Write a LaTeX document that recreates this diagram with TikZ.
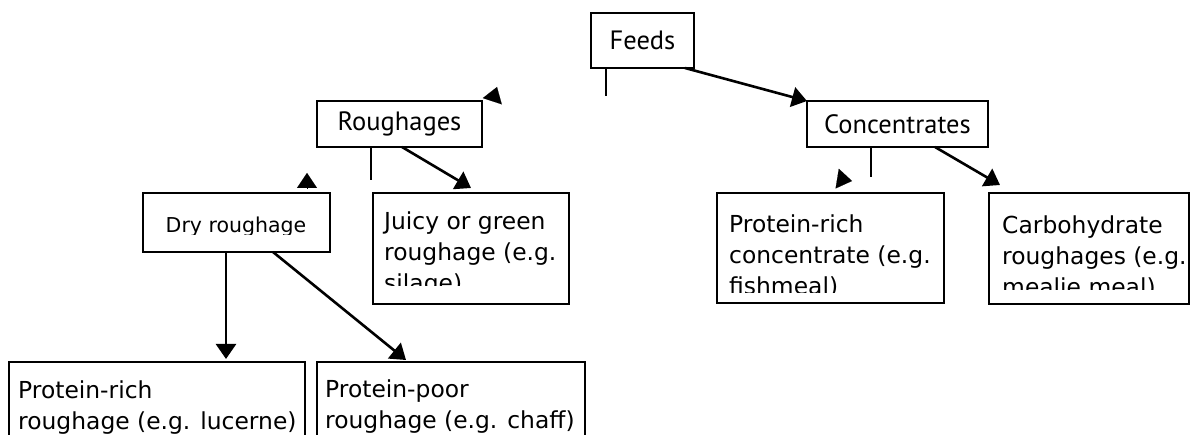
\documentclass[tikz,border=0pt]{standalone}
\usepackage{fontspec}
\usetikzlibrary{arrows.meta}
\newfontfamily\boxfont{DejaVu Sans}
\newfontfamily\headfont{PT Sans}

\begin{document}
\begin{tikzpicture}[x=1pt,y=-1pt,
    box/.style={draw=black,line width=2.6pt,inner sep=0pt,outer sep=0pt},
    headtxt/.style={font=\headfont\fontsize{26.5}{30}\selectfont},
    bodytxt/.style={font=\boxfont\fontsize{23.4}{31}\selectfont,align=left,inner sep=0pt,anchor=base west},
    arr/.style={line width=2.6pt,-{Triangle[width=20pt,length=15pt]}},
    stub/.style={line width=2.6pt},
    head/.style={line width=0.1pt,-{Triangle[width=20pt,length=15pt]}}]

    \clip (0,0) rectangle (1192,435);

    % top boxes
    \node[box,headtxt,minimum width=103pt,minimum height=55pt] (feeds) at (642.5,40.5) {Feeds};
    \node[box,headtxt,minimum width=165pt,minimum height=46pt] (rough) at (399.5,124) {Roughages};
    \node[box,headtxt,minimum width=181pt,minimum height=46pt] (conc) at (897.5,124) {Concentrates};

    % second row
    \node[box,minimum width=187pt,minimum height=59pt]  (dry)    at (236.5,222.5) {};
    \node[box,minimum width=196pt,minimum height=111pt] (juicy)  at (471,248.5) {};
    \node[box,minimum width=227pt,minimum height=110pt] (prconc) at (830.5,248) {};
    \node[box,minimum width=200pt,minimum height=111pt] (carbo)  at (1089,248.5) {};

    % third row
    \node[box,minimum width=296pt,minimum height=120pt] (prrough) at (157,422) {};
    \node[box,minimum width=268pt,minimum height=120pt] (prpoor)  at (451,422) {};

    % texts (placed at the last baseline), cut off at the bottom as in the boxes
    \begin{scope}
        \clip (143,193) rectangle (330,235);
        \node[bodytxt,font=\boxfont\fontsize{20.5}{26}\selectfont,anchor=base] (drytxt) at (236,233) {Dry roughage};
    \end{scope}
    \begin{scope}
        \clip (373,193) rectangle (569,286);
        \node[bodytxt] (juicytxt) at (384,292) {Juicy or green\\roughage (e.g.\\silage)};
    \end{scope}
    \begin{scope}
        \clip (717,193) rectangle (944,293);
        \node[bodytxt] (prconctxt) at (729,295) {Protein-rich\\concentrate (e.g.\\fishmeal)};
    \end{scope}
    \begin{scope}
        \clip (989,193) rectangle (1189,290);
        \node[bodytxt] (carbotxt) at (1002,296) {Carbohydrate\\roughages (e.g.\\mealie meal)};
    \end{scope}
    \node[bodytxt] (prroughtxt) at (18,430) {Protein-rich\\roughage (e.g. lucerne)};
    \node[bodytxt] (prpoortxt)  at (325,429) {Protein-poor\\roughage (e.g. chaff)};

    % connectors
    \coordinate (feedsend) at (606,96);
    \coordinate (roughend) at (371,180);
    \coordinate (concend)  at (871,177);
    \draw[stub] ([xshift=15pt]feeds.south west) -- (feedsend);
    \draw[arr]  ([xshift=-9pt]feeds.south east) -- (conc.north west);
    \draw[stub] ([xshift=54pt]rough.south west) -- (roughend);
    \draw[arr]  ([xshift=2.5pt]rough.south) -- ([yshift=5pt]juicy.north);
    \draw[stub] ([xshift=64pt]conc.south west) -- (concend);
    \draw[arr]  ([xshift=-53pt]conc.south east) -- ([xshift=11pt,yshift=8pt]carbo.north west);
    \draw[arr]  ([xshift=-10.5pt]dry.south) -- ([xshift=69pt,yshift=3pt]prrough.north);
    \draw[arr]  ([xshift=36.5pt]dry.south) -- ([xshift=89pt,yshift=2pt]prpoor.north west);

    % loose arrow heads
    \coordinate (h1a) at (492.3,101.2);
    \coordinate (h1b) at (497,87);
    \coordinate (h2a) at (307,188);
    \coordinate (h2b) at (307,173);
    \coordinate (h3a) at (837.2,178.6);
    \coordinate (h3b) at (852,181);
    \draw[head] (h1a) -- (h1b);
    \draw[head] (h2a) -- (h2b);
    \draw[head] (h3a) -- (h3b);

\end{tikzpicture}
\end{document}
